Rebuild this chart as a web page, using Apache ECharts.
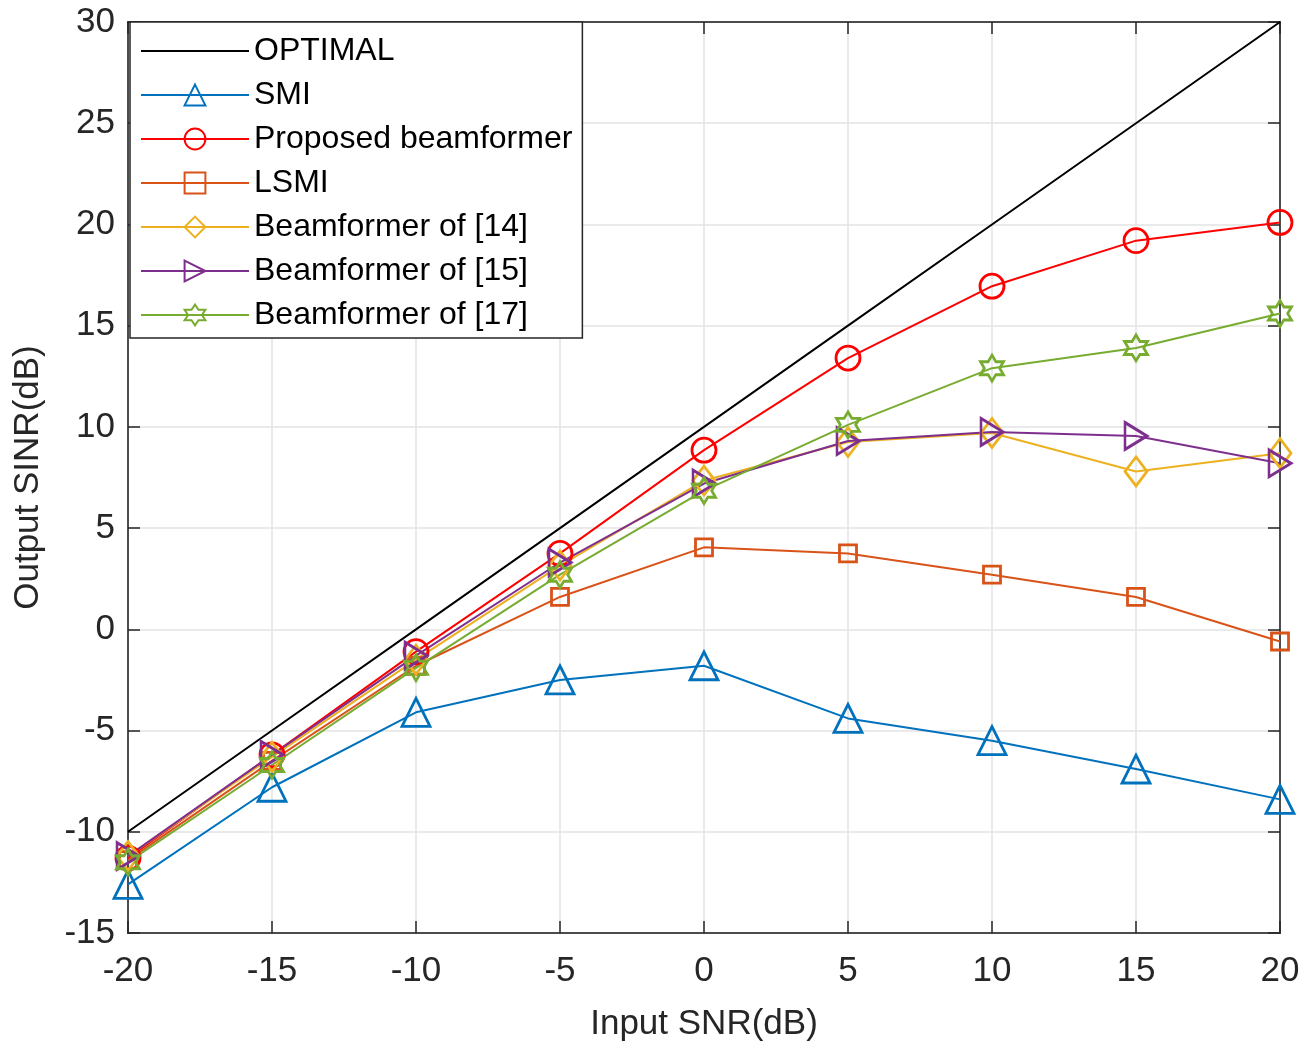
<!DOCTYPE html>
<html lang="en">
<head>
	<meta charset="UTF-8">
	<title>Output SINR vs Input SNR</title>
</head>
<body style="margin:0;background:#fff;">
<div id="chart" style="width:1312px;height:1049px;"></div>
<script src="https://cdn.jsdelivr.net/npm/echarts@6/dist/echarts.min.js"></script>
<script>
	var snr = [-20, -15, -10, -5, 0, 5, 10, 15, 20];

	var optimal  = [-10, -5, 0, 5, 10, 15, 20, 25, 30];
	var smi      = [-12.6, -7.8, -4.1, -2.5, -1.8, -4.4, -5.5, -6.9, -8.4];
	var proposed = [-11.3, -6.2, -1.1, 3.75, 8.85, 13.4, 16.95, 19.2, 20.1];
	var lsmi     = [-11.4, -6.5, -1.8, 1.6, 4.05, 3.75, 2.7, 1.6, -0.6];
	var bf14     = [-11.2, -6.3, -1.5, 3.15, 7.35, 9.25, 9.7, 7.8, 8.7];
	var bf15     = [-11.2, -6.2, -1.3, 3.3, 7.2, 9.3, 9.75, 9.55, 8.2];
	var bf17     = [-11.5, -6.7, -1.9, 2.7, 6.85, 10.1, 12.9, 13.9, 15.6];

	var names = ['OPTIMAL', 'SMI', 'Proposed beamformer', 'LSMI',
		'Beamformer of [14]', 'Beamformer of [15]', 'Beamformer of [17]'];

	function pairs(ys) {
		return snr.map(function (x, i) { return [x, ys[i]]; });
	}

	// six-point star outline
	function hexagram() {
		var pts = [];
		for (var k = 0; k < 12; k++) {
			var a = (-90 + k * 30) * Math.PI / 180;
			var r = k % 2 === 0 ? 50 : 50 / Math.sqrt(3);
			pts.push((50 + r * Math.cos(a)).toFixed(2) + ',' + (50 + r * Math.sin(a)).toFixed(2));
		}
		return 'path://M' + pts.join('L') + 'Z';
	}
	var rightTri = 'path://M0,0L10,5L0,10Z';

	function mk(name, data, color, symbol, size) {
		var noMark = symbol === null;
		return {
			name: name,
			type: 'line',
			data: pairs(data),
			symbol: noMark ? 'circle' : symbol,
			symbolSize: noMark ? 1 : size,
			clip: false,
			lineStyle: { color: color, width: 2 },
			itemStyle: {
				color: 'rgba(0,0,0,0)',
				borderColor: noMark ? 'rgba(0,0,0,0)' : color,
				borderWidth: noMark ? 0 : 2.8
			},
			emphasis: { disabled: true }
		};
	}

	var font = '"Liberation Sans", Arial, sans-serif';
	var axisCol = '#262626';
	var gridCol = '#e3e3e3';

	var myChart = echarts.init(document.getElementById('chart'));

	var tickStyle = { inside: true, length: 12, lineStyle: { color: axisCol, width: 1.5 } };
	var lineStyle = { onZero: false, lineStyle: { color: axisCol, width: 1.5 } };

	var option = {
		animation: false,
		backgroundColor: '#fff',
		grid: {
			left: 128, right: 32, top: 22, bottom: 116,
			outerBoundsMode: 'none',
			containLabel: false,
			show: true, borderColor: axisCol, borderWidth: 1.5
		},
		legend: {
			data: names,
			orient: 'vertical',
			left: 130, top: 22,
			padding: [13, 10, 7, 10],
			itemWidth: 108, itemHeight: 26, itemGap: 12,
			backgroundColor: '#fff',
			borderColor: axisCol, borderWidth: 1.5, borderRadius: 0,
			textStyle: { fontFamily: font, fontSize: 32, lineHeight: 32, color: '#000' },
			selectedMode: false
		},
		xAxis: [{
			type: 'value', min: -20, max: 20, interval: 5,
			name: 'Input SNR(dB)', nameLocation: 'middle', nameGap: 74,
			nameTextStyle: { fontFamily: font, fontSize: 35, color: axisCol },
			axisLine: Object.assign({ show: true }, lineStyle),
			axisTick: Object.assign({ show: true }, tickStyle),
			axisLabel: { fontFamily: font, fontSize: 35, color: axisCol, margin: 21 },
			splitLine: { show: true, lineStyle: { color: gridCol, width: 1.5 } }
		}, {
			type: 'value', min: -20, max: 20, interval: 5, position: 'top',
			axisLine: Object.assign({ show: true }, lineStyle),
			axisTick: Object.assign({ show: true }, tickStyle),
			axisLabel: { show: false }, splitLine: { show: false }
		}],
		yAxis: [{
			type: 'value', min: -15, max: 30, interval: 5,
			name: 'Output SINR(dB)', nameLocation: 'middle', nameGap: 82,
			nameTextStyle: { fontFamily: font, fontSize: 35, color: axisCol },
			axisLine: Object.assign({ show: true }, lineStyle),
			axisTick: Object.assign({ show: true }, tickStyle),
			axisLabel: { fontFamily: font, fontSize: 35, color: axisCol, margin: 13 },
			splitLine: { show: true, lineStyle: { color: gridCol, width: 1.5 } }
		}, {
			type: 'value', min: -15, max: 30, interval: 5, position: 'right',
			axisLine: Object.assign({ show: true }, lineStyle),
			axisTick: Object.assign({ show: true }, tickStyle),
			axisLabel: { show: false }, splitLine: { show: false }
		}],
		series: [
			mk(names[0], optimal, '#000000', null, 0),
			mk(names[1], smi, '#0072BD', 'triangle', 28),
			mk(names[2], proposed, '#FF0000', 'circle', 24),
			mk(names[3], lsmi, '#D95319', 'rect', 17),
			mk(names[4], bf14, '#EDB120', 'diamond', [22, 29]),
			mk(names[5], bf15, '#7E2F8E', rightTri, [22, 27]),
			mk(names[6], bf17, '#77AC30', hexagram(), [23, 26])
		]
	};

	myChart.setOption(option);
</script>
</body>
</html>
